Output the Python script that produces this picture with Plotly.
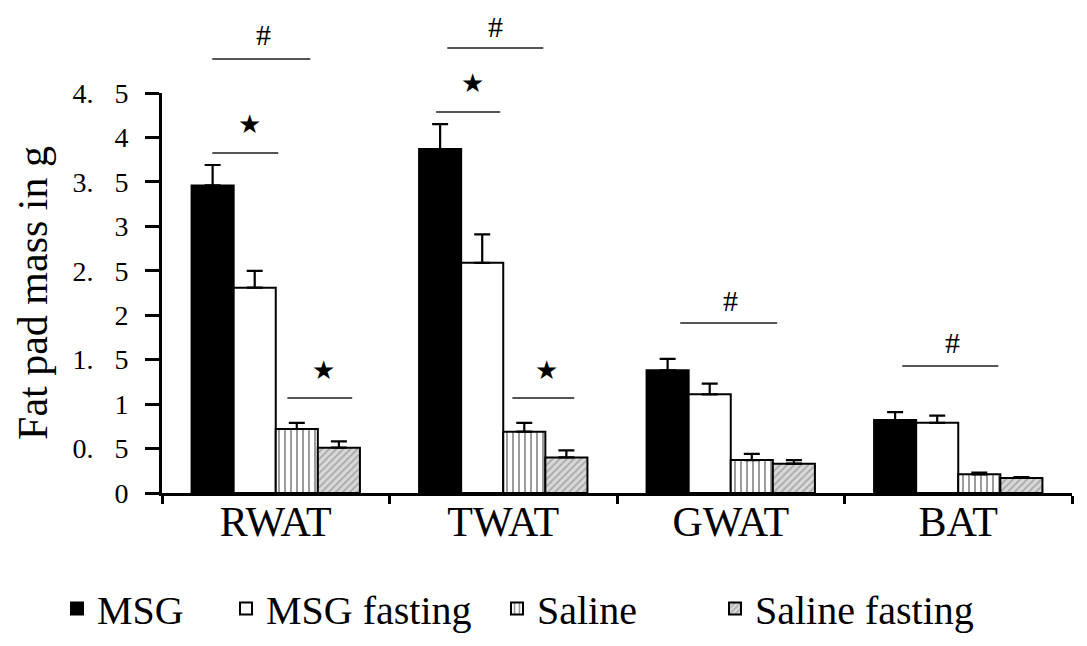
import plotly.graph_objects as go

categories = ["RWAT", "TWAT", "GWAT", "BAT"]
series_names = ["MSG", "MSG fasting", "Saline", "Saline fasting"]
msg = [3.46, 3.87, 1.38, 0.82]
msg_err = [0.23, 0.28, 0.13, 0.09]
msg_fast = [2.31, 2.59, 1.11, 0.79]
msg_fast_err = [0.19, 0.32, 0.12, 0.08]
saline = [0.72, 0.69, 0.37, 0.21]
saline_err = [0.07, 0.10, 0.07, 0.02]
saline_fast = [0.51, 0.40, 0.33, 0.17]
saline_fast_err = [0.07, 0.08, 0.04, 0.01]

NB = "\u00a0\u00a0\u00a0"
ytick_vals = [0, 0.5, 1, 1.5, 2, 2.5, 3, 3.5, 4, 4.5]
ytick_text = ["0", "0." + NB + "5", "1", "1." + NB + "5", "2", "2." + NB + "5",
              "3", "3." + NB + "5", "4", "4." + NB + "5"]

# significance marks: (category index, symbol, text x offset, text y, line x0, line x1, line y)
sig_marks = [
    (0, "#", -0.055, 1.145, -0.279, 0.152, 1.085),
    (0, "\u2605", -0.116, 0.92, -0.279, 0.011, 0.85),
    (0, "\u2605", 0.209, 0.3075, 0.051, 0.336, 0.2375),
    (1, "#", -0.035, 1.1675, -0.246, 0.176, 1.1125),
    (1, "\u2605", -0.136, 1.025, -0.295, -0.013, 0.9525),
    (1, "\u2605", 0.189, 0.3075, 0.04, 0.312, 0.2375),
    (2, "#", 0.0, 0.4825, -0.222, 0.204, 0.425),
    (3, "#", -0.026, 0.3775, -0.246, 0.176, 0.3175),
]

# page body has an 8px margin; figure is sized so the plot lands where the reference has it
PAGE_OFF = 8
FIG_W, FIG_H = 1087 - PAGE_OFF, 646 - PAGE_OFF
legend_left_px = [57, 226, 497, 715]  # absolute left of each legend entry

SERIF = "Liberation Serif, Times New Roman, serif"
xpos = list(range(len(categories)))

styles = [
    dict(color="black", line=dict(color="black", width=2)),
    dict(color="white", line=dict(color="black", width=2)),
    dict(color="white", line=dict(color="black", width=2),
         pattern=dict(shape="|", fgcolor="#222222", bgcolor="white", size=6, solidity=0.3)),
    dict(color="#cfcfcf", line=dict(color="black", width=2),
         pattern=dict(shape="/", fgcolor="#7a7a7a", bgcolor="#d8d8d8", size=5, solidity=0.35)),
]
vals = [msg, msg_fast, saline, saline_fast]
errs = [msg_err, msg_fast_err, saline_err, saline_fast_err]
legend_ids = ["legend", "legend2", "legend3", "legend4"]

fig = go.Figure()
for name, v, e, st, lid in zip(series_names, vals, errs, styles, legend_ids):
    fig.add_trace(go.Bar(
        x=xpos, y=v, name=name, marker=st, legend=lid,
        error_y=dict(type="data", array=e, arrayminus=[0] * len(e), symmetric=False,
                     color="black", thickness=2.2, width=8),
    ))

for cat, sym, tx, ty, x0, x1, ly in sig_marks:
    px = lambda off: (cat + off + 0.5) / len(categories)
    fig.add_shape(type="line", xref="paper", yref="paper", x0=px(x0), x1=px(x1),
                  y0=ly, y1=ly, line=dict(color="#555555", width=2))
    fig.add_annotation(xref="paper", yref="paper", x=px(tx), y=ty, text=sym,
                       xanchor="center", yanchor="middle", showarrow=False, borderpad=0,
                       font=dict(family=SERIF, size=30 if sym == "#" else 26, color="black"))

legend_common = dict(orientation="h", xref="container", xanchor="left",
                     yref="container", y=(646 - 576) / FIG_H, yanchor="top",
                     font=dict(family=SERIF, size=40, color="black"), itemclick=False,
                     bgcolor="rgba(0,0,0,0)")
legends = {}
for lid, lx in zip(legend_ids, legend_left_px):
    legends[lid] = dict(legend_common, x=(lx - PAGE_OFF) / FIG_W)

fig.update_layout(
    width=FIG_W, height=FIG_H,
    margin=dict(l=162 - PAGE_OFF, r=15, t=93 - PAGE_OFF, b=153, autoexpand=False),
    plot_bgcolor="white", paper_bgcolor="white",
    barmode="group", bargap=0.26, bargroupgap=0,
    showlegend=True,
    font=dict(family=SERIF, color="black"),
    **legends,
)
fig.update_xaxes(
    range=[-0.5, 3.5], tickvals=xpos, ticktext=categories, ticks="", showgrid=False,
    showline=True, linecolor="black", linewidth=3, zeroline=False,
    tickfont=dict(family=SERIF, size=42, color="black"), ticklabelstandoff=-10,
    minor=dict(tickmode="linear", tick0=0.5, dtick=1, ticks="outside", ticklen=8,
               tickwidth=3, tickcolor="black", showgrid=False),
)
fig.update_yaxes(
    range=[0, 4.5], tickvals=ytick_vals, ticktext=ytick_text, ticks="outside",
    ticklen=14, tickwidth=3, tickcolor="black", showgrid=False, zeroline=False,
    showline=True, linecolor="black", linewidth=3,
    tickfont=dict(family=SERIF, size=28, color="black"), ticklabelstandoff=11,
    title=dict(text="Fat pad mass in g", font=dict(family=SERIF, size=42, color="black"),
               standoff=12),
)

fig.write_html("out.html")
